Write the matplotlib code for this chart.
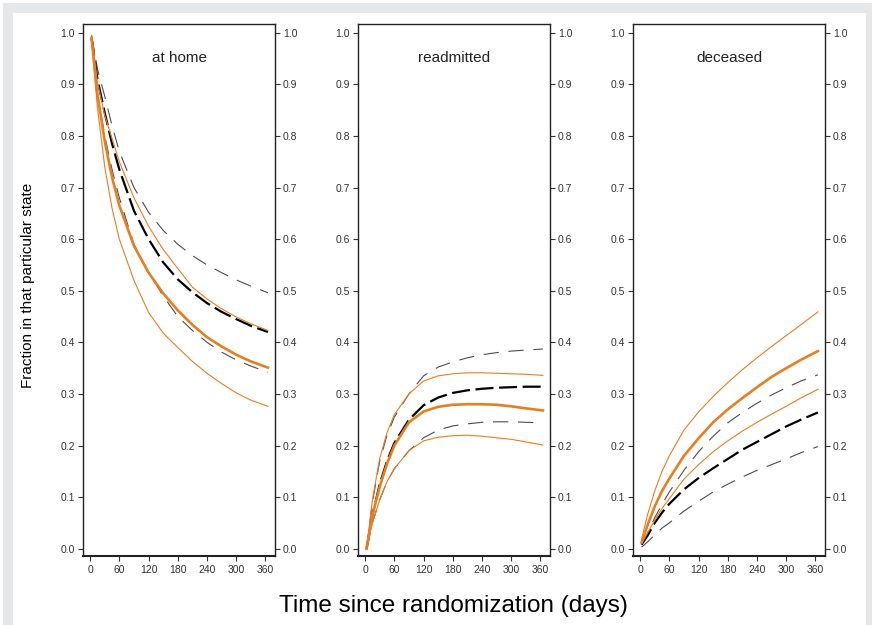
import numpy as np
import matplotlib.pyplot as plt
from matplotlib.patches import Rectangle

# DATA ------------------------------------------------------------------
# values, one list per curve

panel_titles = ['at home', 'readmitted', 'deceased']
days = [3, 15, 30, 45, 60, 90, 120, 150, 180, 210, 240, 270, 300, 330, 365]

# at home
home_black = [0.99, 0.91, 0.845, 0.785, 0.735, 0.655, 0.60, 0.555, 0.522, 0.497, 0.476, 0.459, 0.445, 0.432, 0.42]
home_black_hi = [0.995, 0.93, 0.877, 0.82, 0.77, 0.70, 0.652, 0.617, 0.59, 0.568, 0.55, 0.535, 0.521, 0.509, 0.496]
home_black_lo = [0.985, 0.885, 0.80, 0.735, 0.68, 0.59, 0.535, 0.49, 0.45, 0.423, 0.40, 0.381, 0.366, 0.354, 0.342]
home_orange = [0.99, 0.88, 0.79, 0.72, 0.665, 0.587, 0.535, 0.495, 0.462, 0.434, 0.41, 0.392, 0.376, 0.363, 0.351]
home_orange_hi = [0.995, 0.905, 0.84, 0.795, 0.75, 0.68, 0.625, 0.58, 0.543, 0.507, 0.484, 0.465, 0.449, 0.436, 0.423]
home_orange_lo = [0.985, 0.855, 0.74, 0.66, 0.60, 0.52, 0.458, 0.418, 0.39, 0.363, 0.34, 0.32, 0.302, 0.288, 0.276]

# readmitted
readm_black = [0.0, 0.065, 0.125, 0.17, 0.205, 0.25, 0.278, 0.293, 0.302, 0.307, 0.31, 0.312, 0.313, 0.314, 0.314]
readm_black_hi = [0.0, 0.09, 0.17, 0.22, 0.255, 0.30, 0.335, 0.352, 0.362, 0.37, 0.376, 0.38, 0.383, 0.385, 0.387]
readm_black_lo = [0.0, 0.05, 0.095, 0.13, 0.155, 0.19, 0.215, 0.23, 0.238, 0.242, 0.245, 0.246, 0.246, 0.245, 0.244]
readm_orange = [0.0, 0.065, 0.12, 0.165, 0.20, 0.245, 0.266, 0.275, 0.279, 0.28, 0.28, 0.279, 0.276, 0.272, 0.268]
readm_orange_hi = [0.0, 0.095, 0.175, 0.225, 0.26, 0.30, 0.325, 0.335, 0.339, 0.341, 0.341, 0.340, 0.339, 0.338, 0.336]
readm_orange_lo = [0.0, 0.05, 0.095, 0.13, 0.155, 0.19, 0.209, 0.216, 0.219, 0.22, 0.218, 0.215, 0.212, 0.207, 0.201]

# deceased
dead_black = [0.008, 0.025, 0.05, 0.07, 0.087, 0.115, 0.137, 0.156, 0.174, 0.192, 0.207, 0.222, 0.237, 0.25, 0.264]
dead_black_hi = [0.008, 0.03, 0.06, 0.086, 0.11, 0.152, 0.188, 0.218, 0.244, 0.264, 0.282, 0.298, 0.312, 0.325, 0.337]
dead_black_lo = [0.003, 0.013, 0.027, 0.04, 0.05, 0.073, 0.092, 0.11, 0.125, 0.139, 0.152, 0.163, 0.174, 0.186, 0.198]
dead_orange = [0.012, 0.045, 0.082, 0.112, 0.136, 0.18, 0.214, 0.245, 0.27, 0.292, 0.313, 0.333, 0.35, 0.366, 0.383]
dead_orange_hi = [0.018, 0.065, 0.112, 0.15, 0.18, 0.23, 0.265, 0.295, 0.322, 0.347, 0.37, 0.392, 0.413, 0.434, 0.459]
dead_orange_lo = [0.01, 0.03, 0.055, 0.078, 0.097, 0.135, 0.163, 0.188, 0.209, 0.228, 0.245, 0.261, 0.276, 0.292, 0.309]

x_ticks = [0, 60, 120, 180, 240, 300, 360]
y_ticks = [0.0, 0.1, 0.2, 0.3, 0.4, 0.5, 0.6, 0.7, 0.8, 0.9, 1.0]

panels = [
    (home_black, home_black_hi, home_black_lo, home_orange, home_orange_hi, home_orange_lo),
    (readm_black, readm_black_hi, readm_black_lo, readm_orange, readm_orange_hi, readm_orange_lo),
    (dead_black, dead_black_hi, dead_black_lo, dead_orange, dead_orange_hi, dead_orange_lo),
]

# STYLE -----------------------------------------------------------------

plt.rcParams['font.family'] = ['Liberation Sans', 'DejaVu Sans']
plt.rcParams['lines.scale_dashes'] = False
orange = '#e67e22'
ci_grey = '#4d4d4d'

W, H = 872, 625
fig = plt.figure(figsize=(W / 100, H / 100), dpi=100)

# light grey frame round the white page, like the screenshot
fig.add_artist(Rectangle((3 / W, 0), 1 - 3 / W, 1 - 3 / H, transform=fig.transFigure,
                         facecolor='#e6e7e8', edgecolor='none', zorder=-10))
fig.add_artist(Rectangle((13 / W, 0), (866 - 13) / W, 1 - 13 / H, transform=fig.transFigure,
                         facecolor='white', edgecolor='none', zorder=-9))

lefts = [83, 358, 633]
for i, left in enumerate(lefts):
    ax = fig.add_axes([left / W, 1 - 556 / H, 192 / W, 532 / H])
    ax.patch.set_alpha(0)
    b, b_hi, b_lo, o, o_hi, o_lo = panels[i]

    # black dashed curves first, orange on top
    ax.plot(days, b_hi, color=ci_grey, lw=0.8, dashes=(11, 7))
    ax.plot(days, b_lo, color=ci_grey, lw=0.8, dashes=(11, 7))
    ax.plot(days, b, color='black', lw=1.6, dashes=(13, 4))
    ax.plot(days, o_hi, color=orange, lw=0.8)
    ax.plot(days, o_lo, color=orange, lw=0.8)
    ax.plot(days, o, color=orange, lw=1.9)

    ax.set_xlim(-14.6, 379.6)
    ax.set_ylim(-0.0141, 1.0169)
    ax.set_xticks(x_ticks)
    ax.set_yticks(y_ticks)
    ax.set_yticklabels(['%.1f' % v for v in y_ticks])
    ax.tick_params(axis='y', which='both', left=True, right=True, labelleft=True, labelright=True,
                   direction='out', length=3.3, width=0.8, labelsize=7.5, pad=2.5, colors='#333333')
    ax.tick_params(axis='x', direction='out', length=3.3, width=0.8, labelsize=7.5, pad=3.5,
                   colors='#333333')
    for s in ax.spines.values():
        s.set_linewidth(1.0)
        s.set_color('#222222')
    ax.spines['bottom'].set_linewidth(1.5)

    ax.text(0.5, 0.936, panel_titles[i], transform=ax.transAxes, ha='center', va='center',
            fontsize=11, color='#222222')

fig.text(28 / W, 1 - 285 / H, 'Fraction in that particular state', rotation=90,
         ha='center', va='center', fontsize=11)
fig.text(453 / W, 1 - 612 / H, 'Time since randomization (days)', ha='center', va='baseline',
         fontsize=17.5)

fig.savefig('out.png', dpi=100)
